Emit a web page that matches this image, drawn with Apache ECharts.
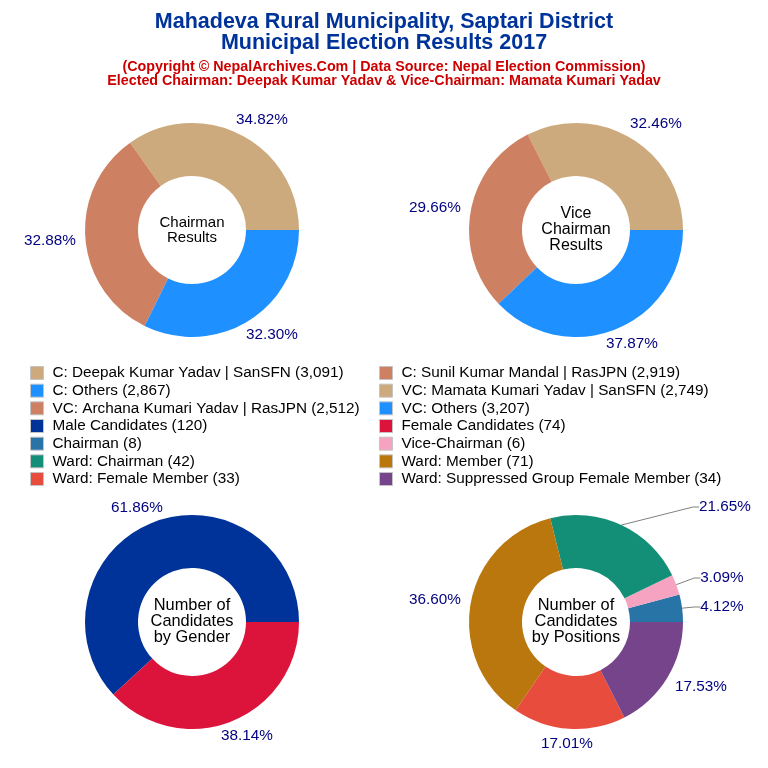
<!DOCTYPE html>
<html>
<head>
<meta charset="utf-8">
<style>html,body{margin:0;padding:0;background:#fff}#main{width:768px;height:768px}</style>
<script src="https://cdn.jsdelivr.net/npm/echarts@6/dist/echarts.min.js"></script>
</head>
<body>
<div id="main"></div>
<script>
var chairmanNames = ['C: Deepak Kumar Yadav | SanSFN', 'C: Sunil Kumar Mandal | RasJPN', 'C: Others'];
var chairmanValues = [3091, 2919, 2867];
var viceNames = ['VC: Mamata Kumari Yadav | SanSFN', 'VC: Archana Kumari Yadav | RasJPN', 'VC: Others'];
var viceValues = [2749, 2512, 3207];
var genderNames = ['Male Candidates', 'Female Candidates'];
var genderValues = [120, 74];
var positionNames = ['Chairman', 'Vice-Chairman', 'Ward: Chairman', 'Ward: Member', 'Ward: Female Member', 'Ward: Suppressed Group Female Member'];
var positionValues = [8, 6, 42, 71, 33, 34];

var chairmanColors = ['#CDAA7D', '#CD8162', '#1E90FF'];
var genderColors = ['#003399', '#DC143C'];
var positionColors = ['#2874A6', '#F5A3C0', '#148F77', '#B9770E', '#E74C3C', '#76448A'];

var legendLeft = [chairmanNames[0], chairmanNames[2], viceNames[1], genderNames[0], positionNames[0], positionNames[2], positionNames[4]];
var legendRight = [chairmanNames[1], viceNames[0], viceNames[2], genderNames[1], positionNames[1], positionNames[3], positionNames[5]];

// where the percent labels sit (label centres), one list per pie
var chairmanLabelAt = [[262, 120], [50, 241], [272, 335]];
var viceLabelAt = [[656, 124], [435, 208], [632, 344]];
var genderLabelAt = [[137, 508], [247, 736]];
var positionLabelAt = [[722, 607], [722, 578], [725, 507], [435, 600], [567, 744], [701, 687]];

var FONT = '"Liberation Sans", Arial, sans-serif';
var myChart = echarts.init(document.getElementById('main'));

// name -> value, for the legend text
var lookup = {};
function remember(names, values) {
  names.forEach(function (n, i) { lookup[n] = values[i]; });
}
remember(chairmanNames, chairmanValues);
remember(viceNames, viceValues);
remember(genderNames, genderValues);
remember(positionNames, positionValues);

function donut(names, values, colors, center, labelAt, linesFor) {
  var total = values.reduce(function (a, b) { return a + b; }, 0);
  return {
    type: 'pie',
    center: center,
    radius: [54, 107],
    startAngle: 0,
    clockwise: false,
    avoidLabelOverlap: false,
    label: {
      // toFixed, not {d}: {d} forces the sum to 100 and drops trailing zeros
      formatter: function (p) { return (p.value / total * 100).toFixed(2) + '%'; },
      color: '#000080',
      fontFamily: FONT,
      fontSize: 15.3
    },
    labelLine: { show: false, length: 6, length2: 6, lineStyle: { color: '#808080', width: 1 } },
    labelLayout: function (p) {
      return { x: labelAt[p.dataIndex][0], y: labelAt[p.dataIndex][1], align: 'center', verticalAlign: 'middle' };
    },
    emphasis: { disabled: true },
    itemStyle: { borderWidth: 0 },
    data: values.map(function (v, i) {
      return {
        name: names[i],
        value: v,
        itemStyle: { color: colors[i] },
        labelLine: { show: linesFor.indexOf(i) >= 0 }
      };
    })
  };
}

function centerText(text, x, y, size, leading) {
  return {
    text: text,
    left: x,
    top: y,
    padding: 0,
    textAlign: 'center',
    textStyle: { fontFamily: FONT, fontSize: size, fontWeight: 'normal', color: '#000', lineHeight: leading }
  };
}

function legendBox(names, x) {
  return {
    orient: 'vertical',
    left: x,
    top: 360,
    itemWidth: 13,
    itemHeight: 13,
    itemGap: 1.67,
    selectedMode: false,
    icon: 'rect',
    itemStyle: { borderColor: '#c4c4c4', borderWidth: 1 },
    data: names,
    formatter: function (n) { return n + ' (' + lookup[n].toLocaleString('en-US') + ')'; },
    textStyle: { fontFamily: FONT, fontSize: 15.3, color: '#000', lineHeight: 16, padding: [0, 0, 0, 4] }
  };
}

var option = {
  backgroundColor: '#fff',
  animation: false,
  title: [
    { text: 'Mahadeva Rural Municipality, Saptari District\nMunicipal Election Results 2017', left: 384, top: 12, padding: 0, textAlign: 'center',
      textStyle: { fontFamily: FONT, fontSize: 21.5, fontWeight: 'bold', color: '#003399', lineHeight: 21 } },
    { text: '(Copyright © NepalArchives.Com | Data Source: Nepal Election Commission)\nElected Chairman: Deepak Kumar Yadav & Vice-Chairman: Mamata Kumari Yadav', left: 384, top: 60, padding: 0, textAlign: 'center',
      textStyle: { fontFamily: FONT, fontSize: 14.3, fontWeight: 'bold', color: '#CC0000', lineHeight: 14 } },
    centerText('Chairman\nResults', 192, 215, 15, 15),
    centerText('Vice\nChairman\nResults', 576, 205.5, 16, 16),
    centerText('Number of\nCandidates\nby Gender', 192, 597.5, 16.4, 16),
    centerText('Number of\nCandidates\nby Positions', 576, 597.5, 16.4, 16)
  ],
  legend: [legendBox(legendLeft, 25), legendBox(legendRight, 374)],
  series: [
    donut(chairmanNames, chairmanValues, chairmanColors, [192, 230], chairmanLabelAt, []),
    donut(viceNames, viceValues, chairmanColors, [576, 230], viceLabelAt, []),
    donut(genderNames, genderValues, genderColors, [192, 622], genderLabelAt, []),
    donut(positionNames, positionValues, positionColors, [576, 622], positionLabelAt, [0, 1, 2])
  ]
};
myChart.setOption(option);
</script>
</body>
</html>
